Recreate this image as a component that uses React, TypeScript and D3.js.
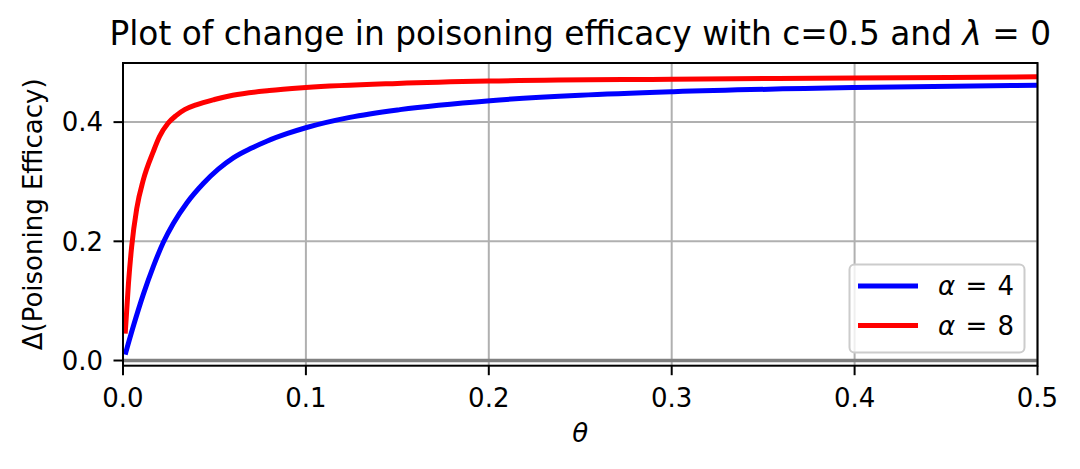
import React from "react";
import * as d3 from "d3";

const thetaBlue = [0.0012, 0.0056, 0.0111, 0.0166, 0.022, 0.0275, 0.0348, 0.0439, 0.0521, 0.0603, 0.07, 0.0786, 0.09, 0.1004, 0.124, 0.1514, 0.2007, 0.25, 0.301, 0.4, 0.5];
const valuesBlue = [0.01, 0.057, 0.111, 0.158, 0.198, 0.23, 0.264, 0.297, 0.321, 0.34, 0.356, 0.368, 0.381, 0.391, 0.408, 0.421, 0.436, 0.445, 0.451, 0.458, 0.462];
const thetaRed = [0.0012, 0.003, 0.0047, 0.0075, 0.0111, 0.0165, 0.02, 0.0246, 0.029, 0.0337, 0.04, 0.05, 0.06, 0.08, 0.1, 0.15, 0.2, 0.3, 0.4, 0.5];
const valuesRed = [0.045, 0.13, 0.19, 0.255, 0.303, 0.35, 0.376, 0.398, 0.411, 0.421, 0.429, 0.438, 0.445, 0.453, 0.458, 0.465, 0.469, 0.472, 0.474, 0.476];
const xTicks = [0, 0.1, 0.2, 0.3, 0.4, 0.5];
const yTicks = [0, 0.2, 0.4];
const seriesNames = ["4", "8"];
const seriesColors = ["#0000ff", "#ff0000"];

const W = 1080, H = 469;
const L = 123, R = 1037.5, T = 63, B = 365.7;
const FONT = "DejaVu Sans, sans-serif";

export default function App() {
  const x = d3.scaleLinear().domain([0, 0.5]).range([L, R]);
  const y = d3.scaleLinear().domain([-0.0087, 0.4992]).range([B, T]);
  const line = d3.line<[number, number]>().x(d => x(d[0])).y(d => y(d[1])).curve(d3.curveMonotoneX);
  const series = [
    thetaBlue.map((t, i) => [t, valuesBlue[i]] as [number, number]),
    thetaRed.map((t, i) => [t, valuesRed[i]] as [number, number]),
  ];
  const fs = 26;
  return (
    <svg width={W} height={H} style={{ position: "absolute", left: 0, top: 0, background: "#fff" }} fontFamily={FONT}>
      <rect x={0} y={0} width={W} height={H} fill="#fff" />
      <defs>
        <clipPath id="clip"><rect x={L} y={T} width={R - L} height={B - T} /></clipPath>
      </defs>
      {xTicks.map(t => (
        <line key={"gx" + t} x1={x(t)} x2={x(t)} y1={T} y2={B} stroke="#b0b0b0" strokeWidth={2} />
      ))}
      {yTicks.map(t => (
        <line key={"gy" + t} x1={L} x2={R} y1={y(t)} y2={y(t)} stroke="#b0b0b0" strokeWidth={2} />
      ))}
      <line x1={L} x2={R} y1={y(0)} y2={y(0)} stroke="#808080" strokeWidth={3.5} />
      <g clipPath="url(#clip)">
        {series.map((s, i) => (
          <path key={i} d={line(s) || ""} fill="none" stroke={seriesColors[i]} strokeWidth={5} strokeLinejoin="round" />
        ))}
      </g>
      <rect x={L} y={T} width={R - L} height={B - T} fill="none" stroke="#000" strokeWidth={2} />
      {xTicks.map(t => (
        <g key={"tx" + t}>
          <line x1={x(t)} x2={x(t)} y1={B} y2={B + 9.5} stroke="#000" strokeWidth={2} />
          <text x={x(t)} y={407} textAnchor="middle" fontSize={fs} fill="#000">{t.toFixed(1)}</text>
        </g>
      ))}
      {yTicks.map(t => (
        <g key={"ty" + t}>
          <line x1={L - 9.5} x2={L} y1={y(t)} y2={y(t)} stroke="#000" strokeWidth={2} />
          <text x={L - 20} y={y(t)} dy="0.36em" textAnchor="end" fontSize={fs} fill="#000">{t.toFixed(1)}</text>
        </g>
      ))}
      <text x={(L + R) / 2} y={442} textAnchor="middle" fontSize={fs} fontStyle="italic" fill="#000">θ</text>
      <text transform={`translate(42,${(T + B) / 2}) rotate(-90)`} textAnchor="middle" fontSize={fs} fill="#000">Δ(Poisoning Efficacy)</text>
      <text x={(L + R) / 2} y={45} textAnchor="middle" fontSize={32.8} fill="#000">
        Plot of change in poisoning efficacy with c=0.5 and <tspan fontStyle="italic">λ</tspan> = 0
      </text>
      <rect x={849.5} y={264.5} width={175} height={88} rx={5} fill="#fff" fillOpacity={0.8} stroke="#cccccc" strokeWidth={2} />
      {seriesNames.map((n, i) => (
        <g key={"lg" + i}>
          <line x1={858} x2={918} y1={286 + i * 39.5} y2={286 + i * 39.5} stroke={seriesColors[i]} strokeWidth={5} />
          <text x={938} y={286 + i * 39.5} dy="0.36em" fontSize={fs} fill="#000">
            <tspan fontStyle="italic">α</tspan>
            <tspan dx={2}>{"\u00a0=\u00a0"}</tspan>
            <tspan dx={2}>{n}</tspan>
          </text>
        </g>
      ))}
    </svg>
  );
}
